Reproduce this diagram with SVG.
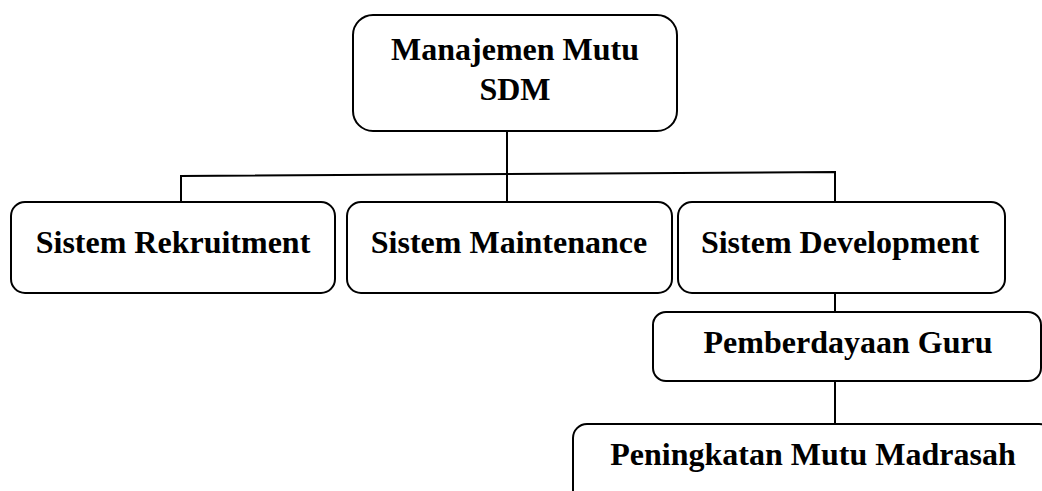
<svg xmlns="http://www.w3.org/2000/svg" width="1042" height="491" viewBox="0 0 1042 491">
<style>
.box{fill:#fff;stroke:#000;stroke-width:2}
.lbl{font-family:"Liberation Serif","Times New Roman",serif;font-weight:bold;font-size:32px;fill:#000;text-anchor:middle}
.con{fill:none;stroke:#000;stroke-width:2}
</style>
<rect width="1042" height="491" fill="#fff"/>
<g id="connectors">
<line class="con" x1="507" y1="131" x2="507" y2="202"/>
<polyline class="con" points="181,202 181,176 835,172 835,202"/>
<line class="con" x1="835" y1="293" x2="835" y2="312"/>
<line class="con" x1="835" y1="381" x2="835" y2="424"/>
</g>
<g id="n-sdm">
<rect class="box" x="353" y="15" width="324" height="116" rx="20"/>
<text class="lbl" x="515" y="60">Manajemen Mutu</text>
<text class="lbl" x="515" y="100">SDM</text>
</g>
<g id="n-rekruitment">
<rect class="box" x="11" y="202" width="324" height="91" rx="14"/>
<text class="lbl" x="173" y="253">Sistem Rekruitment</text>
</g>
<g id="n-maintenance">
<rect class="box" x="347" y="202" width="325" height="91" rx="14"/>
<text class="lbl" x="509" y="253">Sistem Maintenance</text>
</g>
<g id="n-development">
<rect class="box" x="678" y="202" width="327" height="91" rx="14"/>
<text class="lbl" x="840" y="253">Sistem Development</text>
</g>
<g id="n-guru">
<rect class="box" x="653" y="312" width="388" height="69" rx="13"/>
<text class="lbl" x="848" y="353">Pemberdayaan Guru</text>
</g>
<g id="n-madrasah">
<rect class="box" x="573" y="424" width="480" height="90" rx="14"/>
<text class="lbl" x="813" y="465">Peningkatan Mutu Madrasah</text>
</g>
</svg>
